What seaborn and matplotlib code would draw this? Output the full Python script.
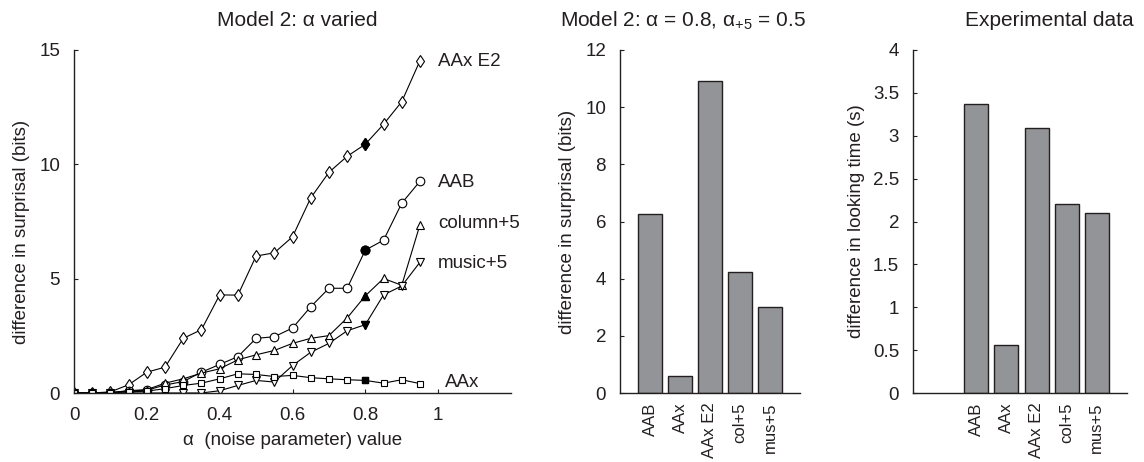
import matplotlib
matplotlib.use("Agg")
import matplotlib.pyplot as plt
import seaborn as sns
import numpy as np
import pandas as pd

# ---------------- data ----------------
alpha = [0.0, 0.05, 0.1, 0.15, 0.2, 0.25, 0.3, 0.35, 0.4, 0.45,
         0.5, 0.55, 0.6, 0.65, 0.7, 0.75, 0.8, 0.85, 0.9, 0.95]
aax_e2 = [0.0, 0.0, 0.05, 0.36, 0.91, 1.13, 2.39, 2.77, 4.29, 4.28,
          5.99, 6.13, 6.83, 8.53, 9.65, 10.35, 10.88, 11.75, 12.74, 14.53]
aab = [0.0, 0.0, 0.02, 0.09, 0.12, 0.35, 0.5, 0.91, 1.25, 1.59,
       2.39, 2.46, 2.84, 3.77, 4.58, 4.58, 6.25, 6.68, 8.3, 9.26]
column5 = [0.0, 0.0, 0.02, 0.1, 0.15, 0.43, 0.62, 0.87, 1.06, 1.45,
           1.67, 1.86, 2.17, 2.39, 2.51, 3.28, 4.25, 5.01, 4.71, 7.36]
music5 = [0.0, 0.0, 0.0, 0.0, 0.0, 0.0, 0.0, 0.0, 0.1, 0.33,
          0.55, 0.48, 1.2, 1.78, 2.17, 2.72, 2.99, 4.29, 4.68, 5.72]
aax = [0.0, 0.0, 0.0, 0.05, 0.08, 0.19, 0.33, 0.43, 0.62, 0.84,
       0.81, 0.72, 0.77, 0.67, 0.62, 0.58, 0.55, 0.43, 0.58, 0.41]
series_names = ["AAx E2", "AAB", "column+5", "music+5", "AAx"]
series_markers = ["d", "o", "^", "v", "s"]
label_y = [14.5, 9.2, 7.4, 5.65, 0.45]
label_x = [1.0, 1.0, 1.0, 1.0, 1.02]
highlight_alpha = 0.8

bar_labels = ["AAB", "AAx", "AAx E2", "col+5", "mus+5"]
model_vals = [6.26, 0.58, 10.92, 4.23, 3.01]
exp_vals = [3.37, 0.565, 3.085, 2.20, 2.10]

# ---------------- style ----------------
sns.set_theme(style="ticks")
plt.rcParams["font.family"] = ["Liberation Sans", "DejaVu Sans"]
plt.rcParams["mathtext.fontset"] = "custom"
plt.rcParams["mathtext.rm"] = "Liberation Sans"
plt.rcParams["mathtext.it"] = "Liberation Sans"
plt.rcParams["mathtext.default"] = "rm"
plt.rcParams["axes.edgecolor"] = "#231f20"
plt.rcParams["axes.linewidth"] = 1.0
FS_TICK = 13.5
FS_BARTICK = 12
FS_LAB = 13.5
FS_TITLE = 15
TXT = "#231f20"
BAR = "#939498"

W, H = 1144, 462
fig = plt.figure(figsize=(W / 100, H / 100), dpi=100)

def px_axes(x0, x1, ytop, ybot):
    return fig.add_axes([x0 / W, (H - ybot) / H, (x1 - x0) / W, (ybot - ytop) / H])

ax1 = px_axes(74, 511, 50, 393)
ax2 = px_axes(620, 800, 50, 393)
ax3 = px_axes(913, 1127, 50, 393)

# ---------------- left panel ----------------
all_series = [aax_e2, aab, column5, music5, aax]
hi = alpha.index(highlight_alpha)
for name, vals, mk, lx, ly in zip(series_names, all_series, series_markers, label_x, label_y):
    df = pd.DataFrame({"alpha": alpha, "v": vals})
    ms = 5 if mk == "s" else 6.2
    sns.lineplot(data=df, x="alpha", y="v", ax=ax1, color="black", lw=0.8,
                 marker=mk, markersize=ms,
                 markerfacecolor="white", markeredgecolor="black",
                 markeredgewidth=0.8, sort=False)
    ax1.plot([alpha[hi]], [vals[hi]], linestyle="none", marker=mk,
             markersize=ms, color="black", zorder=5)
    ax1.text(lx, ly, name, fontsize=FS_LAB, color=TXT, va="center", ha="left")

ax1.set_xlim(0, 1.2)
ax1.set_ylim(0, 15)
ax1.set_xticks([0, 0.2, 0.4, 0.6, 0.8, 1.0])
ax1.set_xticklabels(["0", "0.2", "0.4", "0.6", "0.8", "1"])
ax1.set_yticks([0, 5, 10, 15])
ax1.set_xlabel("α  (noise parameter) value", fontsize=FS_LAB, color=TXT)
ax1.xaxis.set_label_coords(0.5, -0.115)
ax1.set_ylabel("difference in surprisal (bits)", fontsize=FS_LAB, color=TXT)
ax1.yaxis.set_label_coords(-0.10, 0.47)
ax1.set_title("Model 2: α varied", fontsize=FS_TITLE, color=TXT, x=0.51, pad=17)

# ---------------- middle panel ----------------
dfm = pd.DataFrame({"cond": bar_labels, "v": model_vals})
sns.barplot(data=dfm, x="cond", y="v", ax=ax2, color=BAR, saturation=1,
            edgecolor=TXT, linewidth=1.0, width=0.8)
ax2.set_xlim(-1, 5)
ax2.set_ylim(0, 12)
ax2.set_yticks([0, 2, 4, 6, 8, 10, 12])
ax2.set_xlabel("")
ax2.set_ylabel("difference in surprisal (bits)", fontsize=FS_LAB, color=TXT)
ax2.yaxis.set_label_coords(-0.245, 0.5)
ax2.set_title("Model 2: α = 0.8, α$_{+5}$ = 0.5", fontsize=FS_TITLE,
              color=TXT, x=0.35, pad=17)

# ---------------- right panel ----------------
dfe = pd.DataFrame({"cond": bar_labels, "v": exp_vals})
sns.barplot(data=dfe, x="cond", y="v", ax=ax3, color=BAR, saturation=1,
            edgecolor=TXT, linewidth=1.0, width=0.8)
ax3.set_xlim(-2.1, 5.0)
ax3.set_ylim(0, 4)
ax3.set_yticks([0, 0.5, 1, 1.5, 2, 2.5, 3, 3.5, 4])
ax3.set_yticklabels(["0", "0.5", "1", "1.5", "2", "2.5", "3", "3.5", "4"])
ax3.set_xlabel("")
ax3.set_ylabel("difference in looking time (s)", fontsize=FS_LAB, color=TXT)
ax3.yaxis.set_label_coords(-0.225, 0.5)
ax3.set_title("Experimental data", fontsize=FS_TITLE, color=TXT, x=0.636, pad=17)

for ax in (ax1, ax2, ax3):
    sns.despine(ax=ax)
    ax.tick_params(direction="in", length=3, width=0.8, labelsize=FS_TICK,
                   colors=TXT, pad=10)
for ax in (ax2, ax3):
    ax.tick_params(axis="x", length=0, pad=7, labelsize=FS_BARTICK)
    for lab in ax.get_xticklabels():
        lab.set_rotation(90)
        lab.set_va("top")
        lab.set_ha("center")

fig.savefig("out.png", dpi=100, facecolor="white")
